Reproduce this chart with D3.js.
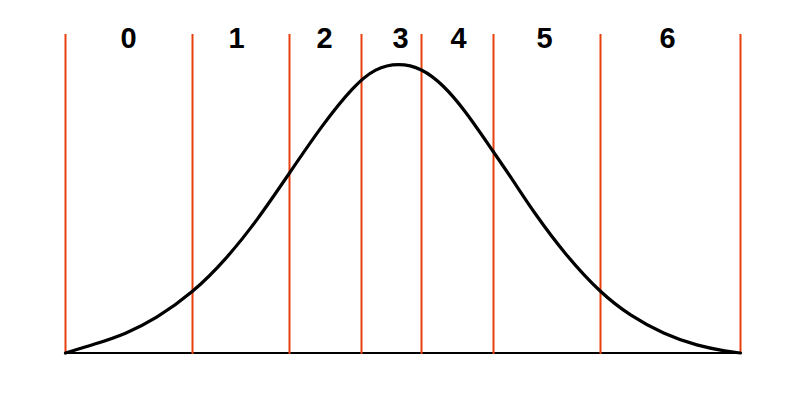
<!DOCTYPE html>
<html>
<head>
<meta charset="utf-8">
<script src="https://cdn.jsdelivr.net/npm/d3@7"></script>
<style>
  html, body { margin: 0; padding: 0; background: #fff; }
  svg { display: block; }
</style>
</head>
<body>
<svg id="chart" width="810" height="396"></svg>
<script>
// Curve sample points (x position, height above baseline)
const curveX = [0, 30, 60, 90, 127, 160, 192, 224, 256, 288, 310, 333, 356, 378, 400, 428, 448, 468, 500, 535, 565, 598, 632, 662, 675];
const curveY = [0, 9, 19, 34, 60, 93, 133, 180, 227, 267, 285, 290, 285, 268, 242, 201, 172, 141, 98, 60, 37, 19, 7, 1.5, 0];
// Boundaries of the bins (red vertical lines)
const boundaries = [0, 127, 224, 296, 356, 428, 535, 675];
// Bin labels and their centres
const labels = ["0", "1", "2", "3", "4", "5", "6"];
const labelX = [63, 171, 259, 335, 393, 479, 602];

const svg = d3.select("#chart");
const x = d3.scaleLinear().domain([0, 675]).range([65.5, 740.5]);
const y = d3.scaleLinear().domain([0, 288]).range([353, 65]);

// baseline
svg.append("line")
  .attr("x1", x(0)).attr("x2", x(675))
  .attr("y1", y(0)).attr("y2", y(0))
  .attr("stroke", "#000").attr("stroke-width", 2);

// red bin lines
svg.selectAll("line.bin").data(boundaries).join("line")
  .attr("class", "bin")
  .attr("x1", d => x(d)).attr("x2", d => x(d))
  .attr("y1", 34).attr("y2", 354)
  .attr("stroke", "#e8400c").attr("stroke-width", 2);

// curve
const pts = curveX.map((d, i) => [d, curveY[i]]);
const line = d3.line().x(d => x(d[0])).y(d => y(d[1])).curve(d3.curveBasis);
svg.append("path")
  .datum(pts)
  .attr("d", line)
  .attr("fill", "none")
  .attr("stroke", "#000")
  .attr("stroke-width", 3.2)
  .attr("stroke-linecap", "round");

// labels
svg.selectAll("text.lab").data(labels).join("text")
  .attr("class", "lab")
  .attr("x", (d, i) => x(labelX[i]))
  .attr("y", 48)
  .attr("text-anchor", "middle")
  .attr("font-family", "'Liberation Sans', Arial, sans-serif")
  .attr("font-weight", "bold")
  .attr("font-size", 29)
  .attr("fill", "#000")
  .text(d => d);
</script>
</body>
</html>
